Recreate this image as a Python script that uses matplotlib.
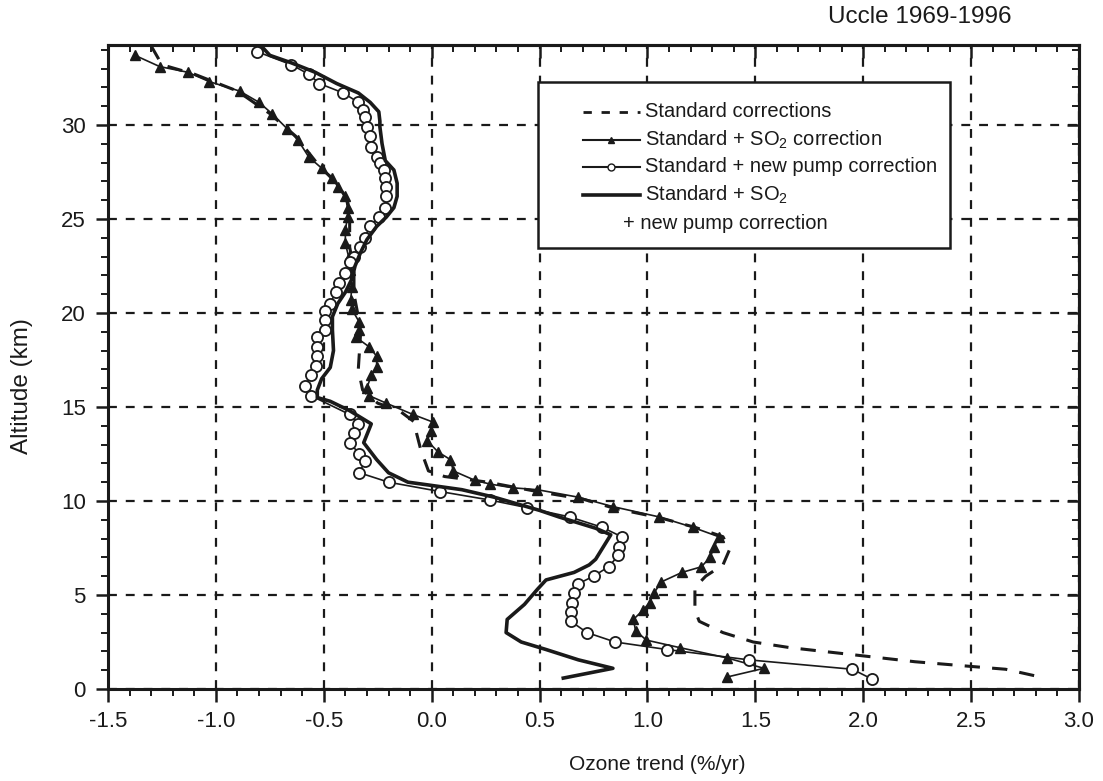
import matplotlib
matplotlib.use('Agg')
import matplotlib.pyplot as plt
from matplotlib.patches import Rectangle
from matplotlib.ticker import MultipleLocator, FormatStrFormatter

plt.rcParams['font.family'] = ['Liberation Sans', 'DejaVu Sans']
plt.rcParams['axes.unicode_minus'] = False
plt.rcParams['mathtext.fontset'] = 'custom'
plt.rcParams['mathtext.rm'] = 'Liberation Sans'
plt.rcParams['mathtext.it'] = 'Liberation Sans:italic'

# Standard corrections (dashed)
std_x = [-1.30, -1.25, -1.10, -0.90, -0.75, -0.63, -0.52, -0.44, -0.39, -0.38, -0.38, -0.36,
         -0.36, -0.34, -0.33, -0.335, -0.34, -0.32, -0.25, -0.15, -0.08, -0.07, -0.05, -0.015,
         0.06, 0.26, 0.49, 0.70, 0.85, 1.06, 1.22, 1.35, 1.38, 1.35, 1.27, 1.22, 1.22, 1.24,
         1.35, 1.49, 1.66, 1.97, 2.24, 2.50, 2.66, 2.82]
std_alt = [34.2, 33.2, 32.7, 31.8, 30.6, 29.4, 27.8, 26.9, 26.0, 25.0, 23.5, 22.3,
           21.0, 19.8, 18.8, 17.9, 17.0, 15.9, 15.2, 14.8, 14.2, 13.6, 12.7, 11.6,
           11.3, 11.0, 10.5, 10.1, 9.6, 9.1, 8.6, 8.1, 7.4, 6.6, 6.0, 5.4, 4.2, 3.6,
           3.0, 2.5, 2.2, 1.8, 1.45, 1.2, 1.05, 0.64]

# Standard + SO2 correction (triangles)
so2_x = [-1.375, -1.26, -1.13, -1.03, -0.89, -0.80, -0.74, -0.67, -0.62, -0.57, -0.51, -0.46,
         -0.435, -0.40, -0.39, -0.39, -0.40, -0.40, -0.385, -0.38, -0.37, -0.375, -0.37, -0.335,
         -0.335, -0.35, -0.29, -0.255, -0.255, -0.28, -0.30, -0.29, -0.21, -0.087, 0.005, -0.005,
         -0.02, 0.03, 0.087, 0.10, 0.20, 0.27, 0.376, 0.49, 0.68, 0.84, 1.055, 1.21, 1.33, 1.31,
         1.29, 1.25, 1.16, 1.065, 1.03, 1.01, 0.98, 0.935, 0.945, 0.995, 1.15, 1.37, 1.54, 1.37]
so2_alt = [33.7, 33.1, 32.8, 32.3, 31.8, 31.2, 30.6, 29.8, 29.2, 28.3, 27.7, 27.2,
           26.7, 26.2, 25.6, 25.1, 24.4, 23.7, 23.0, 22.3, 21.4, 20.7, 20.2, 19.5,
           19.1, 18.7, 18.2, 17.7, 17.1, 16.7, 16.0, 15.6, 15.2, 14.6, 14.2, 13.7,
           13.2, 12.6, 12.2, 11.6, 11.1, 10.9, 10.7, 10.6, 10.2, 9.7, 9.15, 8.6, 8.1, 7.55,
           7.0, 6.5, 6.2, 5.7, 5.1, 4.6, 4.2, 3.7, 3.1, 2.6, 2.2, 1.65, 1.1, 0.64]

# Standard + new pump correction (open circles)
pump_x = [-0.81, -0.65, -0.57, -0.52, -0.41, -0.34, -0.32, -0.31, -0.30, -0.285, -0.28, -0.255,
          -0.24, -0.22, -0.215, -0.21, -0.21, -0.215, -0.245, -0.285, -0.31, -0.33, -0.36, -0.38,
          -0.40, -0.43, -0.445, -0.47, -0.495, -0.495, -0.495, -0.53, -0.53, -0.53, -0.535, -0.56,
          -0.585, -0.56, -0.38, -0.34, -0.36, -0.38, -0.335, -0.31, -0.335, -0.20, 0.04, 0.27,
          0.44, 0.64, 0.79, 0.88, 0.87, 0.865, 0.82, 0.75, 0.68, 0.66, 0.65, 0.645, 0.645, 0.72,
          0.85, 1.09, 1.47, 1.95, 2.04]
pump_alt = [33.9, 33.2, 32.7, 32.2, 31.7, 31.2, 30.8, 30.4, 29.9, 29.4, 28.8, 28.3,
            28.0, 27.6, 27.2, 26.7, 26.2, 25.6, 25.1, 24.6, 24.0, 23.5, 23.0, 22.7,
            22.1, 21.6, 21.1, 20.5, 20.1, 19.6, 19.1, 18.7, 18.2, 17.7, 17.2, 16.7,
            16.1, 15.6, 14.6, 14.1, 13.6, 13.1, 12.5, 12.1, 11.5, 11.0, 10.5, 10.05,
            9.65, 9.15, 8.6, 8.1, 7.55, 7.1, 6.5, 6.0, 5.6, 5.1, 4.6, 4.1, 3.6, 3.0,
            2.5, 2.1, 1.55, 1.05, 0.53]

# Standard + SO2 + new pump correction (solid)
both_x = [-0.79, -0.75, -0.65, -0.54, -0.44, -0.34, -0.285, -0.245, -0.24, -0.24, -0.23, -0.215,
          -0.175, -0.16, -0.16, -0.175, -0.21, -0.255, -0.30, -0.33, -0.355, -0.37, -0.40, -0.435,
          -0.46, -0.46, -0.455, -0.47, -0.51, -0.53, -0.53, -0.47, -0.38, -0.28, -0.315, -0.255,
          -0.20, -0.11, -0.015, 0.14, 0.29, 0.50, 0.59, 0.76, 0.83, 0.795, 0.76, 0.73, 0.66, 0.53,
          0.49, 0.43, 0.35, 0.345, 0.415, 0.53, 0.68, 0.84, 0.61]
both_alt = [34.2, 33.7, 33.3, 32.8, 32.2, 31.7, 31.2, 30.7, 30.2, 29.9, 29.0, 28.1,
            27.6, 26.9, 26.2, 25.6, 25.1, 24.6, 23.9, 23.2, 22.5, 21.8, 21.1, 20.5,
            19.8, 19.1, 18.0, 17.1, 16.5, 15.9, 15.5, 15.3, 14.8, 14.1, 13.1, 12.2,
            11.5, 11.0, 10.85, 10.6, 10.2, 9.5, 9.15, 8.55, 8.2, 7.55, 6.9, 6.6, 6.2, 5.8,
            5.3, 4.5, 3.7, 3.0, 2.5, 2.1, 1.55, 1.1, 0.58]

legend_labels = ['Standard corrections',
                 'Standard + SO$_2$ correction',
                 'Standard + new pump correction',
                 'Standard + SO$_2$',
                 '+ new pump correction']

ink = '#1a1a1a'

fig = plt.figure(figsize=(11.03, 7.81), dpi=100)
ax = fig.add_axes([108 / 1103, 1 - 689 / 781, 971 / 1103, 644 / 781])

ax.plot(std_x, std_alt, color=ink, lw=2.2, dashes=(5, 4))
ax.plot(so2_x, so2_alt, color=ink, lw=1.2, marker='^', ms=7, mfc=ink, mec=ink)
ax.plot(pump_x, pump_alt, color=ink, lw=1.2, marker='o', ms=8, mfc='white', mec=ink, mew=1.3)
ax.plot(both_x, both_alt, color=ink, lw=2.6)

ax.set_xlim(-1.5, 3.0)
ax.set_ylim(0, 34.25)
ax.xaxis.set_major_locator(MultipleLocator(0.5))
ax.xaxis.set_minor_locator(MultipleLocator(0.1))
ax.xaxis.set_major_formatter(FormatStrFormatter('%.1f'))
ax.yaxis.set_major_locator(MultipleLocator(5))
ax.yaxis.set_minor_locator(MultipleLocator(1))
ax.grid(True, which='major', color=ink, lw=1.6, dashes=(4, 4))

for s in ax.spines.values():
    s.set_linewidth(2.2)
    s.set_color(ink)

ax.tick_params(which='major', direction='out', length=9, width=1.8, labelsize=16,
               colors=ink, pad=7)
ax.tick_params(which='minor', direction='out', length=5, width=1.4, colors=ink)

# inward ticks on top and right
top = ax.secondary_xaxis('top')
top.xaxis.set_major_locator(MultipleLocator(0.5))
top.xaxis.set_minor_locator(MultipleLocator(0.1))
top.tick_params(which='major', direction='in', length=9, width=1.8, labeltop=False, colors=ink)
top.tick_params(which='minor', direction='in', length=5, width=1.4, colors=ink)
right = ax.secondary_yaxis('right')
right.yaxis.set_major_locator(MultipleLocator(5))
right.yaxis.set_minor_locator(MultipleLocator(1))
right.tick_params(which='major', direction='in', length=9, width=1.8, labelright=False, colors=ink)
right.tick_params(which='minor', direction='in', length=5, width=1.4, colors=ink)
for s in list(top.spines.values()) + list(right.spines.values()):
    s.set_linewidth(2.2)

ax.set_xlabel('Ozone trend (%/yr)', fontsize=15, color=ink)
ax.xaxis.set_label_coords(0.566, -0.103)
ax.set_ylabel('Altitude (km)', fontsize=17.5, color=ink)
ax.yaxis.set_label_coords(-0.077, 0.47)
fig.text(0.834, 0.978, 'Uccle 1969-1996', fontsize=17.5, color=ink, ha='center', va='center')

# legend box drawn by hand (the last entry hangs under the handle column)
tr = ax.transAxes
ax.add_patch(Rectangle((0.4428, 0.6848), 0.4243, 0.2577, transform=tr, facecolor='white',
                       edgecolor=ink, lw=1.8, zorder=5, clip_on=False))
rows = [0.8960, 0.8525, 0.8106, 0.7671, 0.7236]
hx = [0.4891, 0.5479]
ax.plot(hx, [rows[0]] * 2, transform=tr, color=ink, lw=2, dashes=(3, 3.5), zorder=6, clip_on=False)
ax.plot(hx, [rows[1]] * 2, transform=tr, color=ink, lw=1.5, zorder=6, clip_on=False)
ax.plot([sum(hx) / 2], [rows[1]], transform=tr, marker='^', ms=5, color=ink, zorder=7, clip_on=False)
ax.plot(hx, [rows[2]] * 2, transform=tr, color=ink, lw=1.5, zorder=6, clip_on=False)
ax.plot([sum(hx) / 2], [rows[2]], transform=tr, marker='o', ms=5, mfc='white', mec=ink,
        zorder=7, clip_on=False)
ax.plot(hx, [rows[3]] * 2, transform=tr, color=ink, lw=2.6, zorder=6, clip_on=False)
for i, lab in enumerate(legend_labels):
    tx = 0.5304 if i == 4 else 0.5530
    ax.text(tx, rows[i], lab, transform=tr, fontsize=14.5, color=ink, va='center',
            ha='left', zorder=8)

plt.savefig('out.png', dpi=100)
